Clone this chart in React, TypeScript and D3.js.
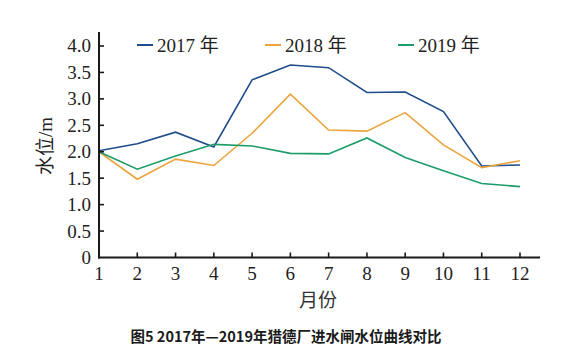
import React from "react";
import * as d3 from "d3";

const months = [1, 2, 3, 4, 5, 6, 7, 8, 9, 10, 11, 12];
const s2017 = [2.02, 2.15, 2.37, 2.09, 3.36, 3.64, 3.59, 3.12, 3.13, 2.76, 1.73, 1.75];
const s2018 = [2.0, 1.48, 1.86, 1.74, 2.35, 3.09, 2.41, 2.39, 2.74, 2.13, 1.7, 1.83];
const s2019 = [2.0, 1.67, 1.92, 2.14, 2.11, 1.97, 1.96, 2.26, 1.89, 1.64, 1.4, 1.34];
const seriesNames = ["2017 年", "2018 年", "2019 年"];
const yTicks = [0, 0.5, 1.0, 1.5, 2.0, 2.5, 3.0, 3.5, 4.0];
const colors = ["#1f4c8b", "#eba43c", "#1b9c68"];
const title = "图5 2017年—2019年猎德厂进水闸水位曲线对比";
const yLabel = "水位/m";
const xLabel = "月份";

export default function App() {
  const x = d3.scaleLinear().domain([1, 12]).range([99, 520]);
  const y = d3.scaleLinear().domain([0, 4]).range([257.5, 46]);
  const line = d3
    .line<number>()
    .x((_, i) => x(months[i]))
    .y((d) => y(d));
  const data = [s2017, s2018, s2019];
  const serif = { fontFamily: '"Liberation Serif", "DejaVu Serif", "Noto Sans CJK SC", serif' };
  const legendX = [137, 265, 398];
  const txt = "#222";
  return (
    <svg
      width={582}
      height={364}
      style={{ position: "absolute", left: 0, top: 0, background: "#fff" }}
    >
      <rect width={582} height={364} fill="#fff" />
      {data.map((s, i) => (
        <path key={i} d={line(s) || ""} fill="none" stroke={colors[i]} strokeWidth={1.6} />
      ))}
      <line x1={99} x2={99} y1={32} y2={258.5} stroke="#1a1a1a" strokeWidth={2} />
      <line x1={98} x2={540} y1={257.5} y2={257.5} stroke="#1a1a1a" strokeWidth={2} />
      {yTicks.map((t) => (
        <g key={t}>
          {t > 0 && <line x1={99} x2={104} y1={y(t)} y2={y(t)} stroke="#1a1a1a" strokeWidth={1.6} />}
          <text x={91} y={y(t)} dy="0.34em" textAnchor="end" fontSize={19} fill={txt} style={serif}>
            {t === 0 ? "0" : d3.format(".1f")(t)}
          </text>
        </g>
      ))}
      {months.map((m) => (
        <g key={m}>
          {m > 1 && <line x1={x(m)} x2={x(m)} y1={257.5} y2={252.5} stroke="#1a1a1a" strokeWidth={1.6} />}
          <text x={x(m)} y={280} textAnchor="middle" fontSize={19} fill={txt} style={serif}>
            {m}
          </text>
        </g>
      ))}
      {seriesNames.map((n, i) => (
        <g key={n}>
          <line x1={legendX[i]} x2={legendX[i] + 16} y1={45} y2={45} stroke={colors[i]} strokeWidth={2} />
          <text x={legendX[i] + 20} y={45} dy="0.35em" fontSize={19} fill={txt} style={serif}>
            {n}
          </text>
        </g>
      ))}
      <text
        transform="translate(45,146) rotate(-90)"
        textAnchor="middle"
        dy="0.35em"
        fontSize={19}
        fill={txt}
        style={serif}
      >
        {yLabel}
      </text>
      <text x={318} y={300} dy="0.35em" textAnchor="middle" fontSize={19} fill="#333" style={serif}>
        {xLabel}
      </text>
      <text
        x={286}
        y={337}
        dy="0.35em"
        textAnchor="middle"
        fontSize={14.5}
        fontWeight="bold"
        fill="#1a1a1a"
        style={{ fontFamily: '"Noto Sans CJK SC", sans-serif' }}
      >
        {title}
      </text>
    </svg>
  );
}
